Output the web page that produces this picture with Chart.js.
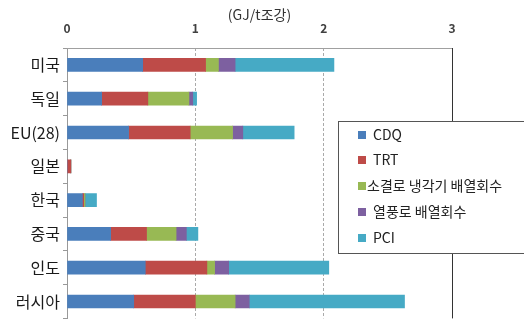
<!DOCTYPE html>
<html>
<head>
<meta charset="utf-8">
<script src="https://cdn.jsdelivr.net/npm/chart.js@4"></script>
<style>
  html, body { margin: 0; padding: 0; background: #fff; }
  #wrap { width: 524px; height: 331px; }
</style>
</head>
<body>
<div id="wrap"><canvas id="myChart" width="524" height="331"></canvas></div>
<script>
// values (GJ/t crude steel)
var categories = ['미국', '독일', 'EU(28)', '일본', '한국', '중국', '인도', '러시아'];
var cdq    = [0.59, 0.27, 0.48, 0,    0.12, 0.34, 0.61, 0.52];
var trt    = [0.49, 0.36, 0.48, 0.03, 0.01, 0.28, 0.48, 0.48];
var sinter = [0.10, 0.32, 0.33, 0,    0.01, 0.23, 0.06, 0.31];
var stove  = [0.13, 0.03, 0.08, 0,    0,    0.08, 0.11, 0.11];
var pci    = [0.77, 0.03, 0.40, 0,    0.09, 0.09, 0.78, 1.21];
var xTicks = [0, 1, 2, 3];

var seriesNames = ['CDQ', 'TRT', '소결로 냉각기 배열회수', '열풍로 배열회수', 'PCI'];
var seriesColors = ['#4a7ebb', '#be4b48', '#98b954', '#7d60a0', '#46aac5'];
var seriesData = [cdq, trt, sinter, stove, pci];

var fontFamily = "'Noto Sans CJK KR', 'Noto Sans', sans-serif";

// legend box drawn over the plot, running off the right edge like the original
var boxLegend = {
    id: 'boxLegend',
    afterDraw: function(chart) {
        var ctx = chart.ctx;
        ctx.save();
        ctx.fillStyle = '#ffffff';
        ctx.fillRect(338, 121, 200, 132);
        ctx.strokeStyle = '#555555';
        ctx.lineWidth = 1;
        ctx.strokeRect(338.5, 121.5, 200, 132);
        ctx.font = '14px ' + fontFamily;
        ctx.textBaseline = 'middle';
        var rows = [135, 160, 186, 212, 238];
        chart.data.datasets.forEach(function(ds, i) {
            ctx.fillStyle = ds.backgroundColor;
            ctx.fillRect(358, rows[i] - 4, 8, 8);
            ctx.fillStyle = '#222222';
            ctx.fillText(ds.label, i === 2 ? 367 : 373, rows[i]);
        });
        ctx.restore();
    }
};

// solid top frame and right frame line at the last tick
var frameLines = {
    id: 'frameLines',
    beforeDatasetsDraw: function(chart) {
        var ctx = chart.ctx;
        var area = chart.chartArea;
        var x = Math.round(chart.scales.x.getPixelForValue(3)) + 0.5;
        var top = Math.round(area.top) + 0.5;
        ctx.save();
        ctx.lineWidth = 1;
        ctx.strokeStyle = '#a0a0a0';
        ctx.beginPath();
        ctx.moveTo(area.left, top);
        ctx.lineTo(x, top);
        ctx.stroke();
        ctx.strokeStyle = '#333333';
        ctx.beginPath();
        ctx.moveTo(x, area.top);
        ctx.lineTo(x, area.bottom);
        ctx.stroke();
        ctx.restore();
    }
};

var ctx = document.getElementById('myChart').getContext('2d');
var myChart = new Chart(ctx, {
    type: 'bar',
    data: {
        labels: categories,
        datasets: seriesData.map(function(values, i) {
            return {
                label: seriesNames[i],
                data: values,
                backgroundColor: seriesColors[i],
                borderWidth: 0,
                barThickness: 13
            };
        })
    },
    options: {
        indexAxis: 'y',
        responsive: false,
        animation: false,
        layout: { padding: { left: 0, right: 72, top: 0, bottom: 0 } },
        plugins: {
            legend: { display: false },
            tooltip: { enabled: false }
        },
        scales: {
            x: {
                position: 'top',
                stacked: true,
                min: 0,
                max: 3,
                afterFit: function(scale) { scale.height = 48; },
                afterBuildTicks: function(scale) {
                    scale.ticks = xTicks.map(function(v) { return { value: v }; });
                },
                ticks: {
                    color: '#404040',
                    padding: 12,
                    font: { family: fontFamily, size: 12, weight: 'bold' }
                },
                grid: {
                    color: function(c) { return c.tick && c.tick.value > 0 && c.tick.value < 3 ? '#aaaaaa' : 'rgba(0,0,0,0)'; },
                    drawTicks: false
                },
                border: { display: false, dash: [3, 2] },
                title: {
                    display: true,
                    text: '(GJ/t조강)',
                    color: '#333333',
                    padding: { top: 6, bottom: 0 },
                    font: { family: fontFamily, size: 14 }
                }
            },
            y: {
                stacked: true,
                afterFit: function(scale) { scale.width = 67; },
                ticks: {
                    color: '#1a1a1a',
                    padding: 3,
                    font: { family: fontFamily, size: 16 }
                },
                grid: {
                    drawOnChartArea: false,
                    drawTicks: true,
                    tickLength: 4,
                    color: '#999999'
                },
                border: { display: true, color: '#999999' }
            }
        }
    },
    plugins: [frameLines, boxLegend]
});
</script>
</body>
</html>
